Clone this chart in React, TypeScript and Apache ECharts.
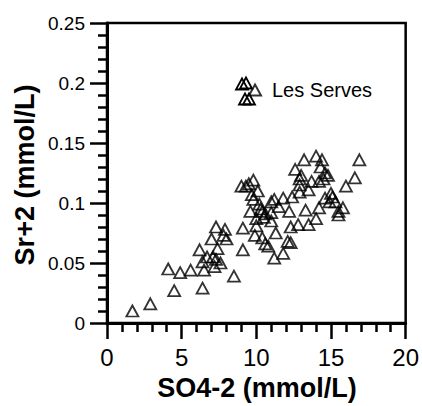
import React, { useEffect, useRef } from "react";
import * as echarts from "echarts";

const seriesName = "Les Serves";
const xTitle = "SO4-2 (mmol/L)";
const yTitle = "Sr+2 (mmol/L)";

const so4: number[] = [
  1.7, 2.9, 4.1, 4.5, 4.9, 5.6, 6.2, 6.4, 6.4, 6.5,
  6.7, 7.0, 7.1, 7.2, 7.3, 7.3, 7.4, 7.6, 7.9, 8.0,
  7.8, 8.5, 9.1, 9.1, 9.0, 9.5, 9.8, 10.1, 9.8, 10.2,
  9.6, 10.0, 10.4, 10.6, 11.0, 11.2, 11.0, 11.0, 9.9, 10.4,
  10.6, 10.8, 11.3, 11.2, 11.8, 11.8, 12.2, 12.4, 12.3, 12.1,
  12.3, 12.8, 12.9, 12.9, 12.6, 13.2, 12.9, 13.3, 13.5, 13.5,
  13.7, 14.0, 14.0, 14.2, 14.4, 14.3, 14.2, 14.6, 14.8, 14.6,
  14.9, 15.1, 15.3, 15.5, 15.5, 15.8, 16.0, 16.6, 16.9, 10.3,
  10.5, 9.7, 10.0, 11.5, 13.0, 14.5, 15.0, 9.3,
];
const sr: number[] = [
  0.010, 0.016, 0.045, 0.027, 0.042, 0.044, 0.061, 0.029, 0.051, 0.044,
  0.055, 0.070, 0.055, 0.047, 0.080, 0.053, 0.062, 0.050, 0.078, 0.070,
  0.073, 0.039, 0.079, 0.061, 0.114, 0.116, 0.119, 0.110, 0.103, 0.099,
  0.093, 0.087, 0.093, 0.091, 0.101, 0.103, 0.085, 0.092, 0.073, 0.071,
  0.066, 0.064, 0.075, 0.054, 0.058, 0.104, 0.093, 0.105, 0.080, 0.068,
  0.067, 0.082, 0.109, 0.120, 0.128, 0.136, 0.115, 0.094, 0.082, 0.111,
  0.118, 0.087, 0.139, 0.096, 0.136, 0.130, 0.118, 0.125, 0.123, 0.104,
  0.101, 0.105, 0.101, 0.090, 0.093, 0.096, 0.114, 0.121, 0.136, 0.095,
  0.088, 0.107, 0.081, 0.097, 0.123, 0.120, 0.108, 0.114,
];

// extra legend-symbol triangles (the legend swatch in the original is a small cluster)
const legendCluster: number[][] = [
  [242, 84],
  [246, 83],
  [245, 99],
  [249, 99],
];

const FONT = "Liberation Sans";

export default function App() {
  const ref = useRef<HTMLDivElement>(null);
  useEffect(() => {
    if (!ref.current) return;
    const chart = echarts.init(ref.current, undefined, { renderer: "svg" });
    const data = so4.map((x, i) => [x, sr[i]]);
    const tri = (cx: number, cy: number) => [
      [cx - 6, cy + 5.5],
      [cx + 6, cy + 5.5],
      [cx, cy - 5.5],
    ];
    chart.setOption({
      animation: false,
      grid: {
        left: 107,
        right: 15,
        top: 23,
        bottom: 83,
        show: true,
        borderColor: "#000",
        borderWidth: 2.5,
        backgroundColor: "transparent",
      },
      legend: {
        show: true,
        data: [seriesName],
        left: 243,
        top: 74,
        itemWidth: 12,
        itemHeight: 11,
        icon: "triangle",
        textStyle: {
          fontFamily: FONT,
          fontSize: 20,
          color: "#000",
          padding: [0, 0, 0, 6],
          lineHeight: 22,
        },
      },
      graphic: [
        ...legendCluster.map(([cx, cy]) => ({
          type: "polygon",
          shape: { points: tri(cx, cy) },
          style: { fill: "transparent", stroke: "#000", lineWidth: 1.8 },
          z: 100,
        })),
        {
          type: "text",
          x: 257,
          y: 388,
          style: {
            text: xTitle,
            fontFamily: FONT,
            fontSize: 27,
            fontWeight: "bold",
            fill: "#000",
            align: "center",
            verticalAlign: "middle",
          },
        },
        {
          type: "text",
          x: 25,
          y: 175,
          rotation: Math.PI / 2,
          style: {
            text: yTitle,
            fontFamily: FONT,
            fontSize: 27,
            fontWeight: "bold",
            fill: "#000",
            align: "center",
            verticalAlign: "middle",
          },
        },
      ],
      xAxis: {
        type: "value",
        min: 0,
        max: 20,
        interval: 5,
        axisLine: { show: true, lineStyle: { color: "#000", width: 3 } },
        axisTick: { show: true, length: 16, lineStyle: { color: "#000", width: 2.5 } },
        minorTick: { show: true, splitNumber: 5, length: 9, lineStyle: { color: "#000", width: 2.5 } },
        axisLabel: { fontFamily: FONT, fontSize: 24, color: "#000", margin: 22 },
        splitLine: { show: false },
      },
      yAxis: {
        type: "value",
        min: 0,
        max: 0.25,
        interval: 0.05,
        axisLine: { show: true, lineStyle: { color: "#000", width: 3 } },
        axisTick: { show: true, length: 17, lineStyle: { color: "#000", width: 2.5 } },
        minorTick: { show: true, splitNumber: 5, length: 9, lineStyle: { color: "#000", width: 2.5 } },
        axisLabel: { fontFamily: FONT, fontSize: 19, color: "#000", margin: 22 },
        splitLine: { show: false },
      },
      series: [
        {
          name: seriesName,
          type: "scatter",
          data,
          symbol: "triangle",
          symbolSize: [12, 11],
          itemStyle: { color: "transparent", borderColor: "#000", borderWidth: 1.8 },
          emphasis: { disabled: true },
        },
      ],
    });
    return () => chart.dispose();
  }, []);
  return (
    <div style={{ position: "absolute", left: 0, top: 0, width: 422, height: 406, background: "#fff" }}>
      <div ref={ref} style={{ width: 422, height: 406 }} />
    </div>
  );
}
